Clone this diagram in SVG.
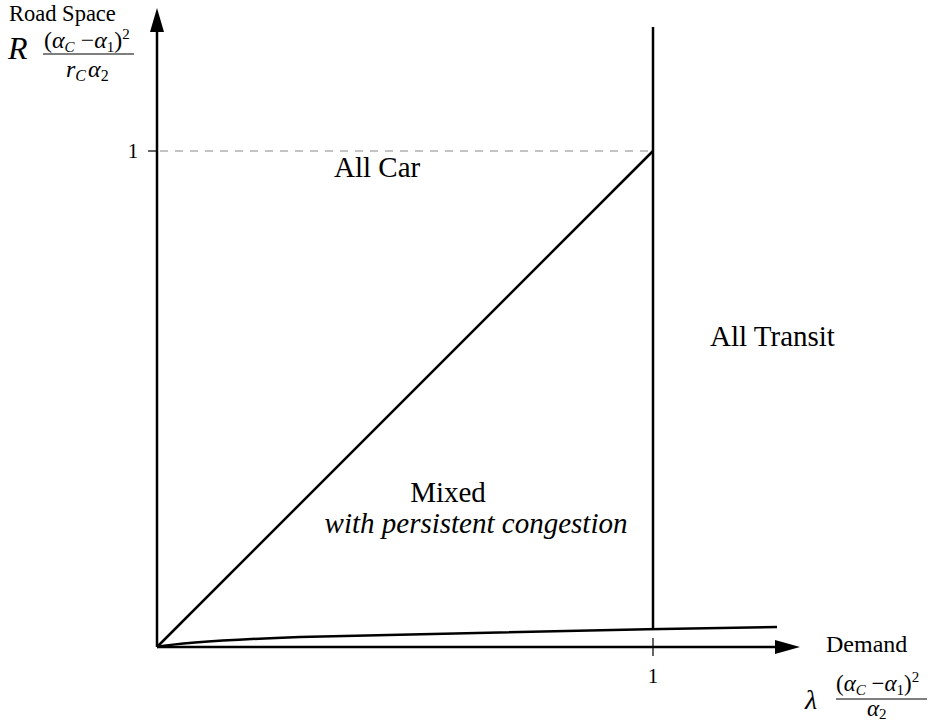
<svg xmlns="http://www.w3.org/2000/svg" width="930" height="721" viewBox="0 0 930 721">
<style>
.t{font-family:"Liberation Serif","Times New Roman","DejaVu Serif",serif;fill:#000}
.i{font-style:italic}
.ln{stroke:#000;stroke-width:2.5;fill:none}
</style>
<rect width="930" height="721" fill="#fff"/>
<g id="connectors">
<line class="ln" x1="157" y1="647" x2="157" y2="30"/>
<polygon points="157,8 150,32 164,32" fill="#000"/>
<line class="ln" x1="157" y1="647" x2="778" y2="647"/>
<polygon points="800,647 775,640 775,654" fill="#000"/>
<line class="ln" x1="653" y1="27" x2="653" y2="629"/>
<line x1="653" y1="638" x2="653" y2="656" stroke="#000" stroke-width="1.2"/>
<line x1="148" y1="151" x2="157" y2="151" stroke="#000" stroke-width="1.2"/>
<line x1="160" y1="151" x2="653" y2="151" stroke="#888" stroke-width="1.2" stroke-dasharray="8,7"/>
<line class="ln" x1="157" y1="647" x2="653" y2="151"/>
<path class="ln" stroke-width="3" d="M157,647 C180,643 220,640 300,637 S600,630 777,627"/>
</g>
<g id="y-axis-label">
<text class="t" x="9" y="21" font-size="22.5">Road Space</text>
<text class="t i" x="8" y="59" font-size="32">R</text>
<text class="t" x="44" y="48" font-size="24">(<tspan class="i">α</tspan><tspan class="i" font-size="15" dy="4">C</tspan><tspan dy="-4"> −</tspan><tspan class="i">α</tspan><tspan font-size="15" dy="4">1</tspan><tspan dy="-4">)</tspan><tspan font-size="15" dy="-9">2</tspan></text>
<line x1="43" y1="54" x2="134" y2="54" stroke="#000" stroke-width="1.2"/>
<text class="t" x="66" y="77" font-size="24"><tspan class="i">r</tspan><tspan class="i" font-size="16" dy="4">C</tspan><tspan class="i" dy="-4" dx="2">α</tspan><tspan font-size="16" dy="4">2</tspan></text>
<text class="t" x="133" y="158" font-size="21" text-anchor="middle">1</text>
</g>
<g id="x-axis-label">
<text class="t" x="826" y="652" font-size="24">Demand</text>
<text class="t" x="653" y="683" font-size="21" text-anchor="middle">1</text>
<text class="t i" x="805" y="709" font-size="28">λ</text>
<text class="t" x="836" y="691" font-size="23">(<tspan class="i">α</tspan><tspan class="i" font-size="15" dy="4">C</tspan><tspan dy="-4"> −</tspan><tspan class="i">α</tspan><tspan font-size="15" dy="4">1</tspan><tspan dy="-4">)</tspan><tspan font-size="15" dy="-9">2</tspan></text>
<line x1="836" y1="699" x2="927" y2="699" stroke="#000" stroke-width="1.2"/>
<text class="t" x="867" y="716" font-size="23"><tspan class="i">α</tspan><tspan font-size="15" dy="3">2</tspan></text>
</g>
<g id="all-car"><text class="t" x="334" y="177" font-size="29">All Car</text></g>
<g id="all-transit"><text class="t" x="710" y="346" font-size="29">All Transit</text></g>
<g id="mixed">
<text class="t" x="448" y="502" font-size="29" text-anchor="middle">Mixed</text>
<text class="t i" x="476" y="533" font-size="29" text-anchor="middle">with persistent congestion</text>
</g>
</svg>
